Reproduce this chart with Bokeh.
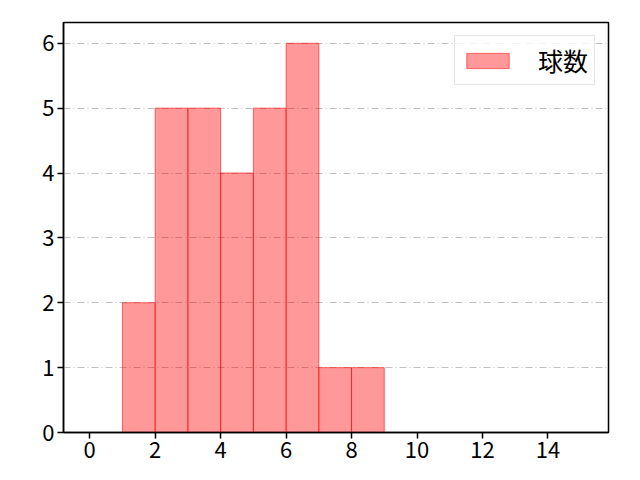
from bokeh.plotting import figure
from bokeh.embed import file_html
from bokeh.resources import INLINE
from bokeh.models import Range1d, FixedTicker, Legend, LegendItem
from bokeh.core.properties import value

bin_left = [1, 2, 3, 4, 5, 6, 7, 8]
bin_right = [2, 3, 4, 5, 6, 7, 8, 9]
counts = [2, 5, 5, 4, 5, 6, 1, 1]
x_ticks = [0, 2, 4, 6, 8, 10, 12, 14]
y_ticks = [0, 1, 2, 3, 4, 5, 6]
label = "球数"

FONT = "Noto Sans CJK JP"

p = figure(width=624, height=464, output_backend="svg", toolbar_location=None,
           x_range=Range1d(-0.8, 15.85), y_range=Range1d(0, 6.32),
           min_border_left=63, min_border_right=16, min_border_top=22, min_border_bottom=32)

r = p.quad(left=bin_left, right=bin_right, bottom=0, top=counts,
           fill_color="#ff0000", fill_alpha=0.4, line_color="#ff0000", line_alpha=0.55, line_width=1)

p.xgrid.visible = False
p.ygrid.grid_line_color = "#b0b0b0"
p.ygrid.grid_line_dash = "7 3 1 3"
p.ygrid.grid_line_width = 0.8

p.outline_line_color = "black"
p.outline_line_width = 1.5
p.outline_line_alpha = 1

for ax, ticks in ((p.xaxis, x_ticks), (p.yaxis, y_ticks)):
    ax.ticker = FixedTicker(ticks=ticks)
    ax.minor_tick_line_color = None
    ax.major_tick_in = 0
    ax.major_tick_out = 6
    ax.major_tick_line_width = 1.5
    ax.major_tick_line_color = "black"
    ax.axis_line_color = "black"
    ax.axis_line_width = 1.5
    ax.major_label_text_font = FONT
    ax.major_label_text_font_size = "22px"
    ax.major_label_text_color = "black"
    ax.major_label_standoff = 3

legend = Legend(items=[LegendItem(label=label, renderers=[r])], location="top_right",
                label_text_font=FONT, label_text_font_size="25px", label_text_color="black",
                border_line_color="#cccccc", border_line_width=1,
                background_fill_alpha=0.8, glyph_width=53, glyph_height=19,
                label_standoff=24, padding=6, margin=13)
p.add_layout(legend)

open("out.html", "w").write(file_html(p, INLINE))
